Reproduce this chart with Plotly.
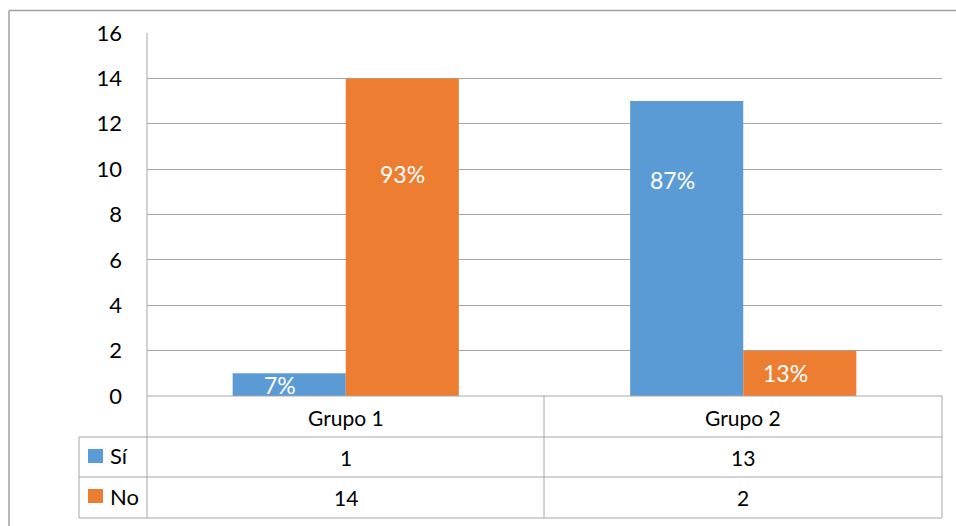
import plotly.graph_objects as go

categories = ["Grupo 1", "Grupo 2"]
series_names = ["Sí", "No"]
si_values = [1, 13]
no_values = [14, 2]
label_levels_si = [0.5, 9.5]
label_levels_no = [9.8, 1.0]
y_ticks = [0, 2, 4, 6, 8, 10, 12, 14, 16]

colors = ["#5B9BD5", "#ED7D31"]
FONT = "Lato, Open Sans, Liberation Sans, sans-serif"
GRID = "#a6a6a6"

W, H = 956, 526
L, R, T, B = 147, 14, 33, 130
PW, PH = W - L - R, H - T - B


def px(x):
    return (x - L) / PW


def py(y):
    return (H - B - y) / PH


xs = list(range(len(categories)))
fig = go.Figure()
for name, vals, col in zip(series_names, [si_values, no_values], colors):
    fig.add_trace(go.Bar(x=xs, y=vals, name=name, marker=dict(color=col, line=dict(width=0)),
                         showlegend=False))

totals = [a + b for a, b in zip(si_values, no_values)]
half = 0.142
ann = []
for i in xs:
    for j, (vals, lv) in enumerate([(si_values, label_levels_si), (no_values, label_levels_no)]):
        pct = round(100 * vals[i] / totals[i])
        ann.append(dict(x=i + (-half if j == 0 else half), y=lv[i], xref="x", yref="y",
                        text=f"{pct}%", showarrow=False, xanchor="center", yanchor="middle",
                        xshift=-14 if (i == 1) else (-9 if j == 0 else 0),
                        font=dict(color="white", size=23, family=FONT)))


def txt(x, y, s, anchor="center", size=21):
    ann.append(dict(x=px(x), y=py(y), xref="paper", yref="paper", text=s, showarrow=False,
                    xanchor=anchor, yanchor="middle", font=dict(size=size, family=FONT, color="#000")))


col_centers = [345.5, 743]
for i, c in enumerate(categories):
    txt(col_centers[i], 417, c)
    txt(col_centers[i], 457, str(si_values[i]))
    txt(col_centers[i], 497, str(no_values[i]))

shapes = []
for k, name in enumerate(series_names):
    yc = [456, 496][k]
    shapes.append(dict(type="rect", xref="paper", yref="paper", x0=px(88), x1=px(103),
                       y0=py(yc + 7), y1=py(yc - 7), fillcolor=colors[k], line=dict(width=0)))
    txt(108, yc, name, anchor="left", size=22)


def line(x0, y0, x1, y1, color=GRID, width=1):
    shapes.append(dict(type="line", xref="paper", yref="paper", x0=px(x0), y0=py(y0),
                       x1=px(x1), y1=py(y1), line=dict(color=color, width=width)))


line(147, 33, 147, 518)
line(544, 396, 544, 518)
line(942, 396, 942, 518)
line(79, 437, 79, 518)
line(147, 396, 942, 396)
line(79, 437, 942, 437)
line(79, 477, 942, 477)
line(79, 518, 942, 518)
# outer chart border (top and left edges visible)
line(9, 10.5, 960, 10.5, color="#a0a0a0", width=1.5)
line(9, 10.5, 9, 530, color="#a0a0a0", width=1.5)

fig.update_layout(
    width=W, height=H, margin=dict(l=L, r=R, t=T, b=B),
    paper_bgcolor="white", plot_bgcolor="white",
    barmode="group", bargap=0.431, bargroupgap=0,
    annotations=ann, shapes=shapes,
    font=dict(family=FONT, size=21, color="#000"),
    xaxis=dict(range=[-0.5, 1.5], showticklabels=False, showgrid=False, zeroline=False,
               showline=False, fixedrange=True),
    yaxis=dict(range=[0, 16], tickvals=y_ticks, showgrid=True, gridcolor=GRID, gridwidth=1,
               zeroline=False, showline=False, ticklabelstandoff=24,
               tickfont=dict(size=22, family=FONT, color="#000")),
)

fig.write_html("out.html", config={"displayModeBar": False},
               post_script="document.body.style.margin='0';document.body.style.overflow='hidden';")
